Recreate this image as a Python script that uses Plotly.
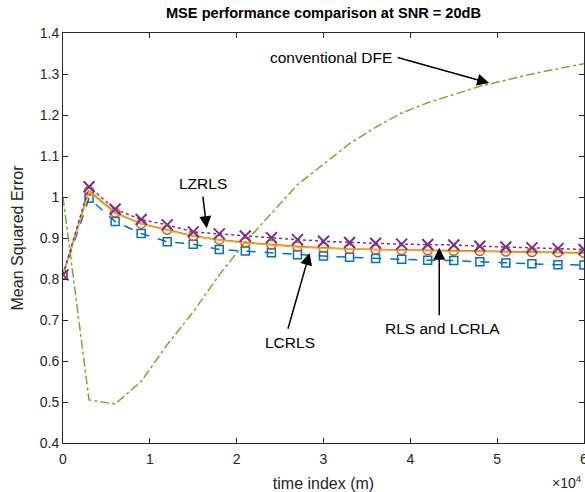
import plotly.graph_objects as go

# ---- data ----
time_index = [0, 3000, 6000, 9000, 12000, 15000, 18000, 21000, 24000, 27000, 30000,
              33000, 36000, 39000, 42000, 45000, 48000, 51000, 54000, 57000, 60000]
mse_lcrls = [0.81, 0.997, 0.940, 0.911, 0.891, 0.885, 0.872, 0.868, 0.864, 0.859, 0.856,
             0.853, 0.850, 0.848, 0.846, 0.845, 0.842, 0.839, 0.837, 0.835, 0.834]
mse_rls = [0.81, 1.015, 0.962, 0.935, 0.920, 0.905, 0.896, 0.889, 0.884, 0.879, 0.876,
           0.873, 0.872, 0.871, 0.870, 0.869, 0.868, 0.867, 0.866, 0.865, 0.864]
mse_lcrla = [0.81, 1.013, 0.960, 0.934, 0.919, 0.904, 0.895, 0.888, 0.883, 0.878, 0.875,
             0.873, 0.871, 0.870, 0.869, 0.868, 0.867, 0.866, 0.865, 0.864, 0.863]
mse_lzrls = [0.81, 1.025, 0.970, 0.945, 0.932, 0.915, 0.910, 0.905, 0.901, 0.896, 0.892,
             0.889, 0.887, 0.885, 0.884, 0.883, 0.880, 0.878, 0.876, 0.874, 0.872]
mse_dfe = [1.0, 0.505, 0.495, 0.55, 0.64, 0.72, 0.81, 0.89, 0.96, 1.03, 1.08,
           1.13, 1.17, 1.205, 1.23, 1.25, 1.27, 1.285, 1.30, 1.313, 1.325]

x_tickvals = [0, 10000, 20000, 30000, 40000, 50000, 60000]
x_ticktext = ["0", "1", "2", "3", "4", "5", "6"]
y_tickvals = [0.4, 0.5, 0.6, 0.7, 0.8, 0.9, 1.0, 1.1, 1.2, 1.3, 1.4]
y_ticktext = ["0.4", "0.5", "0.6", "0.7", "0.8", "0.9", "1", "1.1", "1.2", "1.3", "1.4"]

FONT = "Liberation Sans, Arial, Helvetica, sans-serif"

fig = go.Figure()
fig.add_trace(go.Scatter(x=time_index, y=mse_dfe, mode="lines", name="conventional DFE",
                         line=dict(color="#77AC30", width=1.5, dash="dashdot")))
fig.add_trace(go.Scatter(x=time_index, y=mse_lcrls, mode="lines+markers", name="LCRLS",
                         line=dict(color="#0072BD", width=1.5, dash="dash"),
                         marker=dict(symbol="square-open", size=8, color="#0072BD",
                                     line=dict(width=1.5, color="#0072BD"))))
fig.add_trace(go.Scatter(x=time_index, y=mse_rls, mode="lines+markers", name="RLS",
                         line=dict(color="#D95319", width=1.5),
                         marker=dict(symbol="circle-open", size=9, color="#D95319",
                                     line=dict(width=1.5, color="#D95319"))))
fig.add_trace(go.Scatter(x=time_index, y=mse_lcrla, mode="lines", name="LCRLA",
                         line=dict(color="#EDB120", width=1.5)))
fig.add_trace(go.Scatter(x=time_index, y=mse_lzrls, mode="lines+markers", name="LZRLS",
                         line=dict(color="#7E2F8E", width=1.5, dash="dot"),
                         marker=dict(symbol="x-thin-open", size=11, color="#7E2F8E",
                                     line=dict(width=2, color="#7E2F8E"))))

ANN_FONT = dict(size=15.5, color="black", family=FONT)
arrow_common = dict(showarrow=True, arrowhead=2, arrowsize=1.6, arrowwidth=1.5,
                    arrowcolor="black", text="", xref="x", yref="y")
annotations = [
    dict(x=49080, y=1.278, ax=-93, ay=-26, **arrow_common),
    dict(x=16550, y=0.924, ax=-4, ay=-33, **arrow_common),
    dict(x=28390, y=0.863, ax=-22, ay=77, **arrow_common),
    dict(x=43330, y=0.876, ax=0, ay=69, **arrow_common),
    dict(x=30900, y=1.341, text="conventional DFE", showarrow=False, xref="x", yref="y",
         font=ANN_FONT),
    dict(x=16090, y=1.032, text="LZRLS", showarrow=False, xref="x", yref="y",
         font=ANN_FONT),
    dict(x=26090, y=0.644, text="LCRLS", showarrow=False, xref="x", yref="y",
         font=ANN_FONT),
    dict(x=43680, y=0.68, text="RLS and LCRLA", showarrow=False, xref="x", yref="y",
         font=ANN_FONT),
    dict(x=1.0, y=-0.068, xref="paper", yref="paper", xanchor="right", yanchor="top",
         text="×10<sup>4</sup>", showarrow=False,
         font=dict(size=14, color="#262626", family=FONT)),
]

fig.update_layout(
    width=585, height=492,
    margin=dict(l=63, r=1, t=33, b=49, autoexpand=False),
    paper_bgcolor="white", plot_bgcolor="white",
    showlegend=False,
    font=dict(family=FONT, color="#262626", size=14),
    title=dict(text="<b>MSE performance comparison at SNR = 20dB</b>",
               x=0.5, xref="paper", xanchor="center", y=0.985, yref="container",
               yanchor="top", automargin=False,
               font=dict(size=14.6, color="black", family=FONT)),
    annotations=annotations,
)
fig.update_xaxes(range=[0, 60000], tickvals=x_tickvals, ticktext=x_ticktext,
                 ticks="inside", ticklen=5, tickcolor="#262626", showline=True,
                 linecolor="#262626", linewidth=1, mirror="ticks", showgrid=False,
                 zeroline=False, ticklabeloverflow="allow", ticklabelstandoff=3,
                 automargin=False,
                 title=dict(text="time index (m)", standoff=14, font=dict(size=16)))
fig.update_yaxes(range=[0.4, 1.4], tickvals=y_tickvals, ticktext=y_ticktext,
                 ticks="inside", ticklen=5, tickcolor="#262626", showline=True,
                 linecolor="#262626", linewidth=1, mirror="ticks", showgrid=False,
                 zeroline=False, automargin=False,
                 title=dict(text="Mean Squared Error", standoff=12, font=dict(size=16)))

# remove the default page margin so the 585x492 figure fills the window exactly
fig.write_html("out.html",
               config={"displayModeBar": False},
               post_script="document.body.style.margin='0px';"
                           "document.documentElement.style.overflow='hidden';"
                           "document.body.style.overflow='hidden';")
